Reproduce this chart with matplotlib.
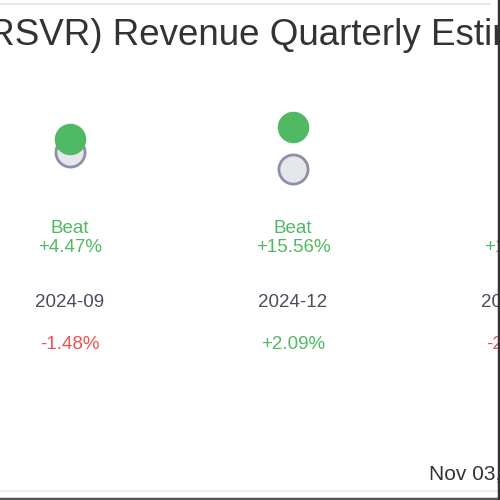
import matplotlib.pyplot as plt
from matplotlib.transforms import blended_transform_factory

plt.rcParams['font.family'] = ['Liberation Sans', 'DejaVu Sans']

# quarterly revenue, $M (actual vs consensus estimate)
quarters = ["2024-09", "2024-12", "2025-03"]
actual = [40.7, 42.3, 41.4]
estimate = [38.96, 36.60, 40.62]
surprise = ["+4.47%", "+15.56%", "+1.92%"]
verdict = ["Beat", "Beat", "Beat"]
price_move = ["-1.48%", "+2.09%", "-2.35%"]
title = "(RSVR) Revenue Quarterly Estimates vs Actuals"
stamp = "Nov 03, 2025"

GREEN = "#50b964"
RED = "#ef5350"

W = H = 500
fig = plt.figure(figsize=(5, 5), dpi=100)
ax = fig.add_axes([0, 0, 1, 1])
ax.set_axis_off()

# x: quarter index, first column centred at 70px, ~222px apart
x0, dx = 70, 223
ax.set_xlim(-x0 / dx, (W - x0) / dx)
# y: revenue, ~7.3px per $M
k, v_ref, p_ref = 7.31, 39.64, 146.75
ax.set_ylim(v_ref - (H - p_ref) / k, v_ref + p_ref / k)

xs = list(range(len(quarters)))
ax.scatter(xs, estimate, s=440, facecolor="#e5e7eb", edgecolor="#8c90a8",
           linewidth=2, zorder=2)
ax.scatter(xs, actual, s=470, color=GREEN, zorder=3)

tr = blended_transform_factory(ax.transData, ax.transAxes)


def fy(px):
    return 1 - px / H


for i, q in enumerate(quarters):
    ax.text(i, fy(228.5), verdict[i], transform=tr, ha="center", va="center",
            fontsize=13.5, color=GREEN)
    ax.text(i, fy(247.5), surprise[i], transform=tr, ha="center", va="center",
            fontsize=13.5, color=GREEN)
    ax.text(i, fy(302.5), q, transform=tr, ha="center", va="center",
            fontsize=13.5, color="#4a4d5e")
    c = RED if price_move[i].startswith("-") else GREEN
    ax.text(i, fy(344.5), price_move[i], transform=tr, ha="center", va="center",
            fontsize=13.5, color=c)

fig.text(-24 / W, fy(35), title, ha="left", va="center", fontsize=26.5,
         color="#333333")
fig.text(429 / W, fy(474), stamp, ha="left", va="center", fontsize=15,
         color="#333333")

# frame lines
fig.add_artist(plt.Line2D([0, 490 / W], [fy(3.5)] * 2, color="#e5e7eb", lw=1.5))
fig.add_artist(plt.Line2D([0, 1], [fy(491)] * 2, color="#eeeeee", lw=1.5))
fig.add_artist(plt.Line2D([0, 1], [fy(498.5)] * 2, color="#555555", lw=2.5))
fig.add_artist(plt.Line2D([498.5 / W] * 2, [0, 1], color="#333333", lw=2.5))

fig.savefig("out.png", dpi=100)
